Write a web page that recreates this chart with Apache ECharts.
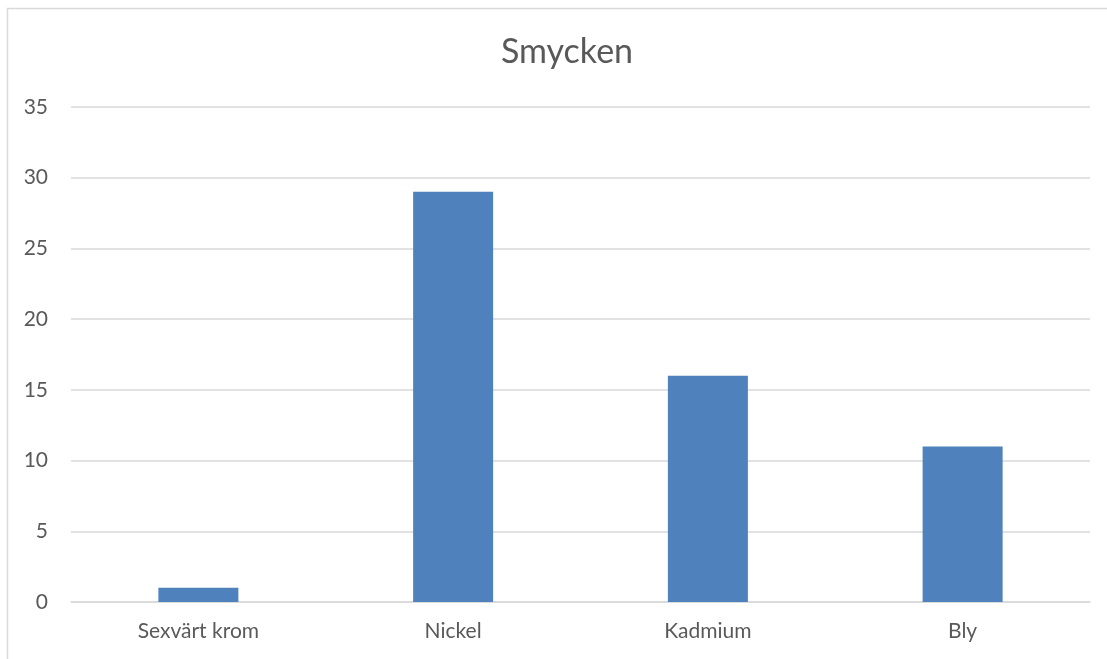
<!DOCTYPE html>
<html><head><meta charset="utf-8">
<script src="https://cdn.jsdelivr.net/npm/echarts@6/dist/echarts.min.js"></script>
<style>html,body{margin:0;padding:0;background:#fff}#c{width:1107px;height:659px}</style>
</head><body><div id="c"></div>
<script>
const categories = ['Sexvärt krom', 'Nickel', 'Kadmium', 'Bly'];
const values = [1, 29, 16, 11];
const chart = echarts.init(document.getElementById('c'));
chart.setOption({
  animation: false,
  backgroundColor: '#fff',
  title: {
    text: 'Smycken', left: 562, top: 30, textAlign: 'center',
    textStyle: { fontFamily: 'Lato', fontSize: 34, fontWeight: 'normal', color: '#595959' }
  },
  graphic: [{
    type: 'rect', shape: { x: 7.5, y: 8.5, width: 1110, height: 660 },
    style: { fill: 'none', stroke: '#d9d9d9', lineWidth: 1.5 }, silent: true
  }],
  grid: { left: 71, right: 17, top: 107, bottom: 57 },
  xAxis: {
    type: 'category', data: categories,
    axisLine: { lineStyle: { color: '#d9d9d9', width: 1.5 } },
    axisTick: { show: false },
    axisLabel: { fontFamily: 'Lato', fontSize: 21, color: '#595959', margin: 19 }
  },
  yAxis: {
    type: 'value', min: 0, max: 35, interval: 5,
    axisLine: { show: false }, axisTick: { show: false },
    splitLine: { lineStyle: { color: '#d9d9d9', width: 1.5 } },
    axisLabel: { fontFamily: 'Lato', fontSize: 21, color: '#595959', margin: 23 }
  },
  series: [{
    type: 'bar', data: values, barWidth: 80,
    itemStyle: { color: '#4f81bd' }
  }]
});
</script></body></html>
